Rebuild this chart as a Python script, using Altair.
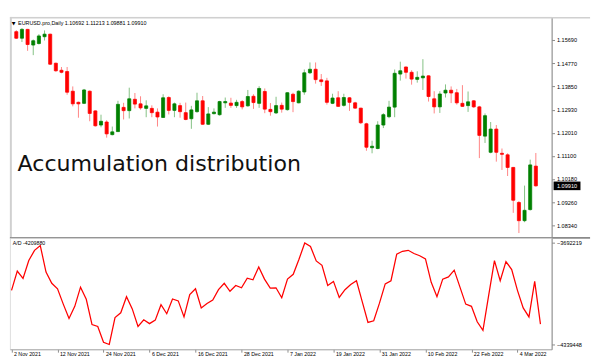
import altair as alt
import pandas as pd

# ---------------- data ----------------
dates = pd.bdate_range("2021-11-02", "2022-03-10")  # 93 daily bars

opens = [1.1602, 1.1576, 1.1611, 1.1549, 1.1555, 1.1582, 1.1592, 1.1477, 1.1449, 1.1444,
         1.1366, 1.1322, 1.1318, 1.1366, 1.1288, 1.1232, 1.1244, 1.1194, 1.1206, 1.1302,
         1.1289, 1.1334, 1.1316, 1.1298, 1.1298, 1.1283, 1.1262, 1.1341, 1.1290, 1.1309,
         1.1281, 1.1257, 1.1285, 1.1328, 1.1235, 1.1277, 1.1273, 1.1320, 1.1319, 1.1309,
         1.1325, 1.1308, 1.1346, 1.1318, 1.1365, 1.1294, 1.1280, 1.1310, 1.1293, 1.1354,
         1.1320, 1.1363, 1.1439, 1.1453, 1.1411, 1.1407, 1.1318, 1.1340, 1.1310, 1.1340,
         1.1320, 1.1299, 1.1237, 1.1142, 1.1139, 1.1232, 1.1265, 1.1303, 1.1434, 1.1462,
         1.1441, 1.1413, 1.1419, 1.1427, 1.1336, 1.1304, 1.1359, 1.1370, 1.1360, 1.1318,
         1.1309, 1.1328, 1.1304, 1.1188, 1.1124, 1.1216, 1.1120, 1.1114, 1.1064, 1.0925,
         1.0853, 1.0897, 1.10692]

highs = [1.1608, 1.1616, 1.1613, 1.1571, 1.1592, 1.1607, 1.1594, 1.1479, 1.1462, 1.1462,
         1.1385, 1.1325, 1.1375, 1.1369, 1.1290, 1.1273, 1.1251, 1.1226, 1.1328, 1.1320,
         1.1380, 1.1359, 1.1346, 1.1330, 1.1310, 1.1298, 1.1354, 1.1346, 1.1321, 1.1320,
         1.1321, 1.1308, 1.1360, 1.1347, 1.1303, 1.1298, 1.1328, 1.1341, 1.1340, 1.1332,
         1.1331, 1.1371, 1.1354, 1.1386, 1.1377, 1.1319, 1.1344, 1.1321, 1.1362, 1.1360,
         1.1370, 1.1452, 1.1480, 1.1480, 1.1434, 1.1419, 1.1356, 1.1366, 1.1356, 1.1343,
         1.1324, 1.1300, 1.1241, 1.1170, 1.1247, 1.1279, 1.1328, 1.1452, 1.1483, 1.1464,
         1.1449, 1.1445, 1.1493, 1.1429, 1.1366, 1.1366, 1.1393, 1.1385, 1.1375, 1.1390,
         1.1365, 1.1331, 1.1308, 1.1278, 1.1244, 1.1232, 1.1139, 1.1120, 1.1066, 1.0931,
         1.0992, 1.1095, 1.11213]

lows = [1.1573, 1.1561, 1.1526, 1.1509, 1.1551, 1.1567, 1.1470, 1.1443, 1.1437, 1.1352,
        1.1306, 1.1261, 1.1315, 1.1247, 1.1226, 1.1223, 1.1182, 1.1191, 1.1205, 1.1254,
        1.1258, 1.1298, 1.1293, 1.1263, 1.1263, 1.1226, 1.1261, 1.1274, 1.1263, 1.1261,
        1.1251, 1.1217, 1.1281, 1.1233, 1.1232, 1.1274, 1.1269, 1.1300, 1.1300, 1.1300,
        1.1294, 1.1305, 1.1296, 1.1300, 1.1279, 1.1269, 1.1276, 1.1281, 1.1289, 1.1283,
        1.1318, 1.1352, 1.1434, 1.1396, 1.1387, 1.1313, 1.1315, 1.1304, 1.1305, 1.1288,
        1.1296, 1.1236, 1.1130, 1.1120, 1.1136, 1.1220, 1.1259, 1.1263, 1.1408, 1.1416,
        1.1392, 1.1400, 1.1371, 1.1325, 1.1278, 1.1280, 1.1341, 1.1319, 1.1313, 1.1304,
        1.1284, 1.1300, 1.1101, 1.1161, 1.1120, 1.1087, 1.1054, 1.1030, 1.0884, 1.0804,
        1.0847, 1.0893, 1.09881]

closes = [1.1576, 1.1611, 1.1551, 1.1566, 1.1585, 1.1592, 1.1473, 1.1447, 1.1441, 1.1362,
          1.1316, 1.1316, 1.1371, 1.1278, 1.1229, 1.1247, 1.1197, 1.1205, 1.1314, 1.1289,
          1.1336, 1.1315, 1.1300, 1.1308, 1.1281, 1.1264, 1.1340, 1.1290, 1.1316, 1.1285,
          1.1254, 1.1292, 1.1328, 1.1235, 1.1276, 1.1283, 1.1325, 1.1325, 1.1310, 1.1322,
          1.1304, 1.1345, 1.1321, 1.1377, 1.1295, 1.1285, 1.1309, 1.1295, 1.1360, 1.1325,
          1.1366, 1.1439, 1.1453, 1.1412, 1.1404, 1.1322, 1.1339, 1.1306, 1.1341, 1.1322,
          1.1299, 1.1241, 1.1144, 1.1148, 1.1232, 1.1273, 1.1303, 1.1437, 1.1447, 1.1441,
          1.1414, 1.1421, 1.1426, 1.1345, 1.1304, 1.1355, 1.1370, 1.1359, 1.1320, 1.1306,
          1.1324, 1.1304, 1.1191, 1.1269, 1.1216, 1.1124, 1.1116, 1.1064, 1.0934, 1.0853,
          1.0894, 1.1074, 1.09910]

ad_values = [-3994287, -3871827, -3918770, -3804474, -3739162, -3708547, -3877950, -3949385, -3984082, -4082050,
             -4173895, -4096337, -3973877, -4051435, -4212674, -4224920, -4324929, -4339448, -4167772, -4137157,
             -4035107, -4112665, -4224920, -4182059, -4206551, -4184100, -4086132, -4143280, -4049394, -4061640,
             -4163690, -4020820, -3984082, -4106542, -4077968, -4055517, -3990205, -3949385, -4000410, -3963672,
             -3977959, -3916729, -3926934, -3845294, -3922852, -3980000, -3977959, -4041230, -3922852, -3892237,
             -3796310, -3692219, -3714670, -3806515, -3835089, -3963672, -3937139, -4039189, -3990205, -3957549,
             -3933057, -4065722, -4198387, -4188182, -4075927, -3953467, -3933057, -3763654, -3745285, -3739162,
             -3759572, -3773859, -3794269, -3943262, -4035107, -3922852, -3908565, -3865704, -3973877, -4082050,
             -4096337, -4194305, -4249412, -4024902, -3804474, -3933057, -3810597, -3861622, -3994287, -4106542,
             -4163690, -3937139, -4209880]

price_ticks = [1.15690, 1.14770, 1.13850, 1.12930, 1.12010, 1.11100, 1.10180, 1.09260, 1.08340]
ad_ticks = [-3692219, -4339448]
date_labels = ["2 Nov 2021", "12 Nov 2021", "24 Nov 2021", "6 Dec 2021", "16 Dec 2021",
               "28 Dec 2021", "7 Jan 2022", "19 Jan 2022", "31 Jan 2022", "10 Feb 2022",
               "22 Feb 2022", "4 Mar 2022"]
symbol = "EURUSD.pro,Daily"
big_title = "Accumulation distribution"

# ---------------- layout ----------------
W, H1, H2 = 564, 230, 116
X_DOM = [-0.28, 93.95]
TOP_DOM = [1.07849, 1.16603]
AD_DOM = [-4370035, -3659767]
UP, DOWN = "#008000", "#ff0000"
AXIS_FONT = "Liberation Sans"

df = pd.DataFrame({
    "i": list(range(len(opens))),
    "date": dates.strftime("%Y-%m-%d"),
    "open": opens, "high": highs, "low": lows, "close": closes,
    "ad": ad_values,
})
df["dir"] = ["up" if c >= o else "down" for o, c in zip(opens, closes)]
last = df.tail(1).copy()
last["label"] = [f"{closes[-1]:.5f}"]

tick_idx = [int(dates.get_loc(pd.to_datetime(l))) for l in date_labels]
label_expr = "".join(f"datum.value == {i} ? '{l}' : " for i, l in zip(tick_idx, date_labels)) + "''"

xs = alt.Scale(domain=X_DOM, nice=False, zero=False)
ys = alt.Scale(domain=TOP_DOM, nice=False, zero=False)
ads = alt.Scale(domain=AD_DOM, nice=False, zero=False)
col_scale = alt.Scale(domain=["up", "down"], range=[UP, DOWN])

def price_axis():
    return alt.Axis(orient="right", values=price_ticks, format=".5f", title=None, grid=False,
                    labelFont=AXIS_FONT, labelFontSize=5.8, labelColor="#000000",
                    tickSize=3, tickColor="#888888", domainColor="#888888", labelPadding=2,
                    labelOverlap=False, labelFlush=False)

base = alt.Chart(df)
X = alt.X("i:Q", scale=xs, axis=None)

wicks = base.mark_rule(strokeWidth=1, opacity=0.5).encode(
    x=X,
    y=alt.Y("low:Q", scale=ys, axis=price_axis()),
    y2="high:Q",
    color=alt.Color("dir:N", scale=col_scale, legend=None),
)
bodies = base.mark_bar(size=3.2, strokeWidth=0.8).encode(
    x=X,
    y=alt.Y("open:Q", scale=ys, axis=price_axis()),
    y2="close:Q",
    color=alt.Color("dir:N", scale=col_scale, legend=None),
    stroke=alt.Stroke("dir:N", scale=col_scale, legend=None),
)

txt_df = pd.DataFrame({"t": [0]})
header_tri = alt.Chart(txt_df).mark_text(text="▼", fontSize=5, align="left", baseline="middle",
                                          color="#000000", font="DejaVu Sans").encode(
    x=alt.value(2), y=alt.value(6))
header = alt.Chart(txt_df).mark_text(
    text=f"{symbol}  {opens[-1]:.5f} {highs[-1]:.5f} {lows[-1]:.5f} {closes[-1]:.5f}",
    fontSize=5.6, align="left", baseline="middle", color="#000000", font=AXIS_FONT).encode(
    x=alt.value(8.5), y=alt.value(6))
title_txt = alt.Chart(txt_df).mark_text(text=big_title, fontSize=23, align="left",
                                         baseline="alphabetic", color="#111111",
                                         font="DejaVu Sans").encode(
    x=alt.value(8), y=alt.value(160.5))

top_border = alt.Chart(txt_df).mark_rule(color="#d0d0d0", strokeWidth=1.5).encode(
    x=alt.value(0), x2=alt.value(W + 40), y=alt.value(0.75))
left_border = alt.Chart(txt_df).mark_rule(color="#d0d0d0", strokeWidth=2).encode(
    x=alt.value(1), y=alt.value(0), y2=alt.value(H1))
separator = alt.Chart(txt_df).mark_rule(color="#8a8a8a", strokeWidth=2).encode(
    x=alt.value(0), x2=alt.value(W + 40), y=alt.value(H1))

box = alt.Chart(last).mark_point(
    shape="M-1,-0.32L1,-0.32L1,0.32L-1,0.32Z", size=784, filled=True, opacity=1,
    color="#000000").encode(x=alt.value(W + 16), y=alt.Y("close:Q", scale=ys, axis=price_axis()))
box_txt = alt.Chart(last).mark_text(fontSize=5.8, color="#ffffff", font=AXIS_FONT,
                                    align="center", baseline="middle").encode(
    x=alt.value(W + 16), y=alt.Y("close:Q", scale=ys, axis=price_axis()), text="label:N")

top = alt.layer(wicks, bodies, top_border, left_border, header_tri, header, title_txt,
                box, box_txt, separator).properties(width=W, height=H1)

# ---------------- A/D panel ----------------
x_axis = alt.Axis(values=tick_idx, labelExpr=label_expr, title=None, grid=False,
                  labelFont=AXIS_FONT, labelFontSize=5.5, labelColor="#000000",
                  labelAlign="left", labelBaseline="top", labelOffset=2, labelPadding=-1,
                  tickSize=3, tickColor="#888888", domainColor="#a8a8a8",
                  labelOverlap=False, labelFlush=False)
ad_axis = alt.Axis(orient="right", values=ad_ticks, format="d", title=None, grid=False,
                   labelFont=AXIS_FONT, labelFontSize=5.8, labelColor="#000000",
                   tickSize=3, tickColor="#888888", domainColor="#888888", labelPadding=2,
                   labelOverlap=False, labelFlush=False)

ad_line = alt.Chart(df).mark_line(color="#ff0000", strokeWidth=1.3).encode(
    x=alt.X("i:Q", scale=xs, axis=x_axis),
    y=alt.Y("ad:Q", scale=ads, axis=ad_axis),
)
ad_label = alt.Chart(txt_df).mark_text(text=f"A/D {ad_values[-1]}", fontSize=5.5, align="left",
                                        baseline="middle", color="#000000", font=AXIS_FONT).encode(
    x=alt.value(3), y=alt.value(5))

bottom = alt.layer(ad_line, ad_label).properties(width=W, height=H2)

chart = alt.vconcat(top, bottom, spacing=0, bounds="flush").properties(
    padding={"left": 0, "top": 0, "right": 0, "bottom": 0}
).configure_view(stroke=None).configure_axis(labelOverlap=False).configure(background="#ffffff")

chart.save("out.html", embed_options={"renderer": "svg", "actions": False})
